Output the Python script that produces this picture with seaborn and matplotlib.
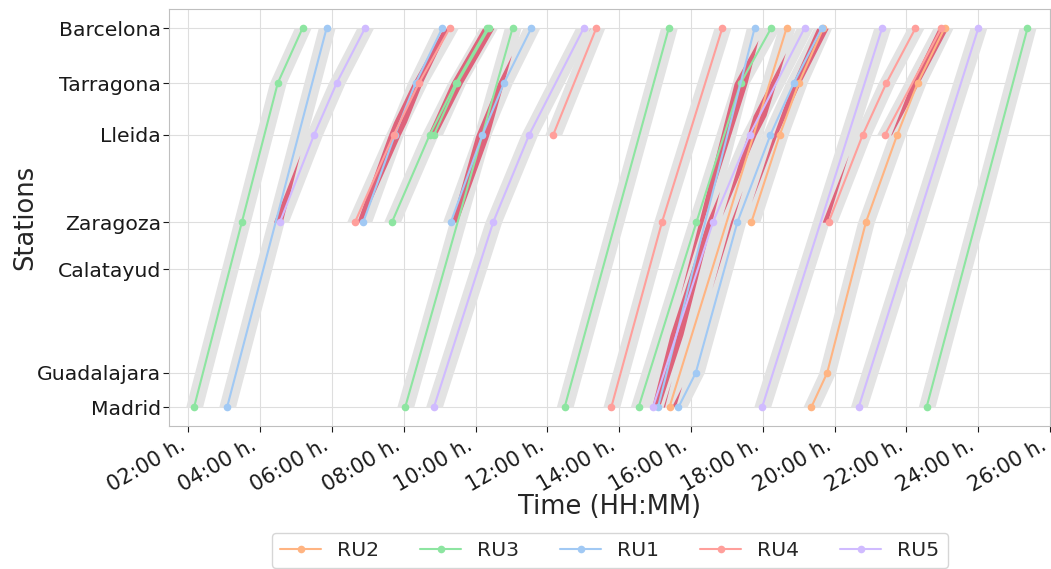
import numpy as np
import pandas as pd
import matplotlib
matplotlib.use("Agg")
import matplotlib.pyplot as plt
import seaborn as sns
from matplotlib.ticker import FuncFormatter, FixedLocator

# ---------------- data ----------------
station_names = ["Madrid", "Guadalajara", "Calatayud", "Zaragoza", "Lleida", "Tarragona", "Barcelona"]
station_km = [0, 56, 226, 303, 446, 531, 621]

ru_order = ["RU2", "RU3", "RU1", "RU4", "RU5"]

# each train: operator, stops served, times (hours) at those stops
train_ru = [
    "RU3", "RU1", "RU5", "RU4", "RU1", "RU3", "RU3", "RU3", "RU1", "RU5",
    "RU4", "RU3", "RU4", "RU3", "RU5", "RU1", "RU2", "RU1", "RU2", "RU5",
    "RU2", "RU4", "RU4", "RU5", "RU3",
]
train_stops = [
    ["Madrid", "Zaragoza", "Tarragona", "Barcelona"],
    ["Madrid", "Barcelona"],
    ["Zaragoza", "Lleida", "Tarragona", "Barcelona"],
    ["Zaragoza", "Lleida", "Tarragona", "Barcelona"],
    ["Zaragoza", "Lleida", "Tarragona", "Barcelona"],
    ["Zaragoza", "Lleida", "Tarragona", "Barcelona"],
    ["Lleida", "Tarragona", "Barcelona"],
    ["Madrid", "Barcelona"],
    ["Zaragoza", "Lleida", "Tarragona", "Barcelona"],
    ["Madrid", "Zaragoza", "Lleida", "Barcelona"],
    ["Lleida", "Barcelona"],
    ["Madrid", "Barcelona"],
    ["Madrid", "Zaragoza", "Barcelona"],
    ["Madrid", "Zaragoza", "Tarragona", "Barcelona"],
    ["Madrid", "Zaragoza", "Lleida", "Barcelona"],
    ["Madrid", "Barcelona"],
    ["Madrid", "Barcelona"],
    ["Madrid", "Guadalajara", "Zaragoza", "Lleida", "Tarragona", "Barcelona"],
    ["Zaragoza", "Lleida", "Tarragona", "Barcelona"],
    ["Madrid", "Barcelona"],
    ["Madrid", "Guadalajara", "Zaragoza", "Lleida", "Tarragona", "Barcelona"],
    ["Zaragoza", "Lleida", "Tarragona", "Barcelona"],
    ["Lleida", "Barcelona"],
    ["Madrid", "Barcelona"],
    ["Madrid", "Barcelona"],
]
train_times = [
    [2.16, 3.49, 4.49, 5.18],
    [3.08, 5.85],
    [4.55, 5.50, 6.13, 6.92],
    [6.64, 7.72, 8.42, 9.28],
    [6.87, 7.75, 8.33, 9.07],
    [7.67, 8.72, 9.45, 10.33],
    [8.84, 9.49, 10.37],
    [8.04, 11.03],
    [9.31, 10.19, 10.79, 11.55],
    [8.84, 10.49, 11.49, 13.01],
    [12.16, 13.36],
    [12.48, 15.38],
    [13.78, 15.19, 16.87],
    [14.54, 16.15, 17.38, 18.23],
    [14.94, 16.61, 17.63, 19.16],
    [15.08, 17.77],
    [15.40, 18.66],
    [15.65, 16.13, 17.29, 18.21, 18.86, 19.64],
    [17.68, 18.47, 19.00, 19.68],
    [17.98, 21.32],
    [19.35, 19.79, 20.87, 21.74, 22.31, 23.06],
    [19.83, 20.78, 21.44, 22.25],
    [21.40, 22.97],
    [20.67, 24.00],
    [22.56, 25.37],
]

x_ticks = list(range(2, 27, 2))

# ---------------- build table ----------------
km_of = dict(zip(station_names, station_km))
rows = []
for i, (ru, stops, times) in enumerate(zip(train_ru, train_stops, train_times)):
    for s, t in zip(stops, times):
        rows.append({"train": i, "RU": ru, "station": s, "km": km_of[s], "time": t})
df = pd.DataFrame(rows)

pal = sns.color_palette("pastel")
palette = {"RU1": pal[0], "RU2": pal[1], "RU3": pal[2], "RU4": pal[3], "RU5": pal[4]}

sns.set_style("whitegrid", {
    "axes.edgecolor": "0.75",
    "grid.color": "0.87",
    "xtick.bottom": True,
    "ytick.left": True,
    "xtick.color": "0.1",
    "ytick.color": "0.1",
})
plt.rcParams["xtick.major.size"] = 4
plt.rcParams["ytick.major.size"] = 4
plt.rcParams["xtick.major.width"] = 0.8
plt.rcParams["ytick.major.width"] = 0.8
plt.rcParams["xtick.major.pad"] = 2.5
plt.rcParams["ytick.major.pad"] = 2.0

fig = plt.figure(figsize=(10.51, 5.69), dpi=100)
ax = fig.add_axes([0.1611, 0.2513, 0.8384, 0.7324])

band_hw = 0.235      # half width of the requested-slot band (hours)
conflict_hw = 0.18   # half width used for the conflict overlap (hours)

paths = []
for stops, times in zip(train_stops, train_times):
    kms = np.array([km_of[s] for s in stops], dtype=float)
    ts = np.array(times, dtype=float)
    paths.append((kms, ts))

# grey bands
for kms, ts in paths:
    yy = np.linspace(kms[0], kms[-1], 400)
    xx = np.interp(yy, kms, ts)
    ax.fill_betweenx(yy, xx - band_hw, xx + band_hw, color="#e3e3e3", lw=0, zorder=1)

# conflicts (overlap of slots of two trains)
n = len(paths)
for i in range(n):
    for j in range(i + 1, n):
        ki, ti = paths[i]
        kj, tj = paths[j]
        y0 = max(ki[0], kj[0]); y1 = min(ki[-1], kj[-1])
        if y1 <= y0:
            continue
        yy = np.linspace(y0, y1, 600)
        xi = np.interp(yy, ki, ti)
        xj = np.interp(yy, kj, tj)
        lo = np.maximum(xi, xj) - conflict_hw
        hi = np.minimum(xi, xj) + conflict_hw
        mask = hi > lo
        if mask.any():
            ax.fill_betweenx(yy, lo, hi, where=mask, interpolate=True,
                             color="crimson", alpha=0.62, lw=0, zorder=2)

sns.lineplot(data=df, x="time", y="km", hue="RU", hue_order=ru_order, palette=palette,
             units="train", estimator=None, sort=False, marker="o", markersize=5.5,
             markeredgewidth=0, linewidth=1.5, ax=ax, zorder=3)

ax.set_xlim(1.47, 26.01)
ax.set_ylim(-31, 652)
ax.xaxis.set_major_locator(FixedLocator(x_ticks))
ax.xaxis.set_major_formatter(FuncFormatter(lambda v, p: f"{int(round(v)):02d}:00 h."))
ax.set_yticks(station_km)
ax.set_yticklabels(station_names)
ax.tick_params(axis="x", labelsize=15)
ax.tick_params(axis="y", labelsize=14.7)
plt.setp(ax.get_xticklabels(), rotation=30, ha="right", rotation_mode="default")
ax.set_xlabel("Time (HH:MM)", fontsize=18.5, labelpad=-1)
ax.set_ylabel("Stations", fontsize=18.5, labelpad=-1)

sns.move_legend(ax, "upper center", bbox_to_anchor=(0.5, -0.257), ncol=5, title=None,
                frameon=True, fontsize=14.7, borderaxespad=0)

fig.savefig("out.png", dpi=100)
